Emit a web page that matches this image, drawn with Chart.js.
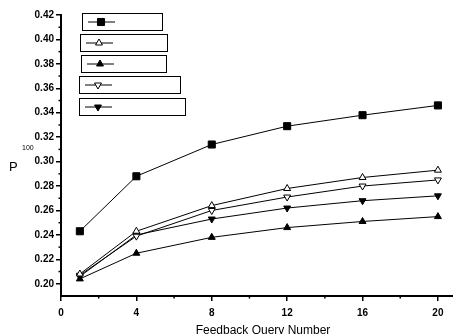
<!DOCTYPE html>
<html>
<head>
<meta charset="utf-8">
<script src="https://cdn.jsdelivr.net/npm/chart.js@4"></script>
<style>
html,body{margin:0;padding:0;background:#fff;}
#wrap{width:453px;height:334px;position:relative;}
</style>
</head>
<body>
<div id="wrap"><canvas id="c" width="453" height="334"></canvas></div>
<script>
const feedbackQueries = [1, 4, 8, 12, 16, 20];
const seriesSquare = [0.243, 0.288, 0.314, 0.329, 0.338, 0.346];
const seriesOpenUp = [0.208, 0.243, 0.264, 0.278, 0.287, 0.293];
const seriesFilledUp = [0.204, 0.225, 0.238, 0.246, 0.251, 0.255];
const seriesOpenDown = [0.207, 0.239, 0.260, 0.271, 0.280, 0.285];
const seriesFilledDown = [0.206, 0.240, 0.253, 0.262, 0.268, 0.272];
const yTickValues = [0.20, 0.22, 0.24, 0.26, 0.28, 0.30, 0.32, 0.34, 0.36, 0.38, 0.40, 0.42];
const xTickValues = [0, 4, 8, 12, 16, 20];
const yMinorValues = [0.21, 0.23, 0.25, 0.27, 0.29, 0.31, 0.33, 0.35, 0.37, 0.39, 0.41];
const xMinorValues = [2, 6, 10, 14, 18];
const xTitle = 'Feedback Query Number';

function pts(vals){ return feedbackQueries.map((x,i)=>({x:x,y:vals[i]})); }

const markerDefs = [
  {data: seriesSquare, style:'rect', fill:'#000', rot:0, r:5},
  {data: seriesOpenUp, style:'triangle', fill:'#fff', rot:0, r:4},
  {data: seriesFilledUp, style:'triangle', fill:'#000', rot:0, r:4},
  {data: seriesOpenDown, style:'triangle', fill:'#fff', rot:180, r:4},
  {data: seriesFilledDown, style:'triangle', fill:'#000', rot:180, r:4}
];

const datasets = markerDefs.map(d => ({
  data: pts(d.data),
  borderColor:'#000',
  borderWidth:1,
  pointStyle:d.style,
  pointRotation:d.rot,
  pointRadius:d.r,
  pointBackgroundColor:d.fill,
  pointBorderColor:'#000',
  pointBorderWidth:1,
  tension:0,
  fill:false
}));

const legendBoxes = [
  {x:82, y:13, w:80, h:17},
  {x:80, y:34, w:87, h:17},
  {x:81, y:55, w:85, h:17},
  {x:79, y:76, w:101, h:17},
  {x:79, y:98, w:106, h:17}
];

const extras = {
  id:'extras',
  afterDraw(chart){
    const ctx = chart.ctx;
    const xs = chart.scales.x, ys = chart.scales.y;
    ctx.save();
    ctx.strokeStyle='#000'; ctx.lineWidth=1.5;
    yMinorValues.forEach(v=>{
      const py = ys.getPixelForValue(v);
      ctx.beginPath(); ctx.moveTo(xs.left-2.5, py); ctx.lineTo(xs.left, py); ctx.stroke();
    });
    xMinorValues.forEach(v=>{
      const px = xs.getPixelForValue(v);
      ctx.beginPath(); ctx.moveTo(px, ys.bottom); ctx.lineTo(px, ys.bottom+2.5); ctx.stroke();
    });
    legendBoxes.forEach((b,i)=>{
      ctx.strokeStyle='#000'; ctx.lineWidth=1;
      ctx.strokeRect(b.x+0.5, b.y+0.5, b.w, b.h);
      const my = b.y + b.h/2 + 0.5;
      ctx.beginPath(); ctx.moveTo(b.x+6, my); ctx.lineTo(b.x+33, my); ctx.stroke();
      const d = markerDefs[i];
      ctx.fillStyle = d.fill;
      Chart.helpers.drawPoint(ctx, {pointStyle:d.style, rotation:d.rot, radius:d.r, borderWidth:1}, b.x+19, my);
    });
    ctx.fillStyle='#000';
    ctx.font='12px Arial, "Liberation Sans", sans-serif';
    ctx.textAlign='center'; ctx.textBaseline='alphabetic';
    ctx.fillText(xTitle, 263, 334);
    ctx.font='13px Arial, "Liberation Sans", sans-serif';
    ctx.textAlign='left'; ctx.textBaseline='middle';
    ctx.fillText('P', 9, 167);
    ctx.font='7px Arial, "Liberation Sans", sans-serif';
    ctx.fillText('100', 22, 148);
    ctx.restore();
  }
};

new Chart(document.getElementById('c'), {
  type:'line',
  data:{datasets:datasets},
  plugins:[extras],
  options:{
    responsive:false,
    animation:false,
    devicePixelRatio:1,
    layout:{autoPadding:false, padding:{top:15, right:0, bottom:0, left:0}},
    plugins:{legend:{display:false}, tooltip:{enabled:false}, title:{display:false}},
    scales:{
      x:{
        type:'linear', min:0, max:20.8,
        afterBuildTicks(s){ s.ticks = xTickValues.map(v=>({value:v})); },
        afterFit(s){ s.height = 38; },
        grid:{drawOnChartArea:false, drawTicks:true, tickLength:5, color:'#000', lineWidth:1.5},
        border:{display:true, color:'#000', width:2},
        ticks:{color:'#000', font:{family:'Arial, "Liberation Sans", sans-serif', size:10, weight:'bold'}, padding:6, maxRotation:0, autoSkip:false}
      },
      y:{
        type:'linear', min:0.19, max:0.42,
        afterBuildTicks(s){ s.ticks = yTickValues.map(v=>({value:v})); },
        afterFit(s){ s.width = 61; },
        grid:{drawOnChartArea:false, drawTicks:true, tickLength:5, color:'#000', lineWidth:1.5},
        border:{display:true, color:'#000', width:2},
        ticks:{color:'#000', font:{family:'Arial, "Liberation Sans", sans-serif', size:10, weight:'bold'}, padding:2, autoSkip:false,
          callback:(v)=>v.toFixed(2)}
      }
    }
  }
});
</script>
</body>
</html>
